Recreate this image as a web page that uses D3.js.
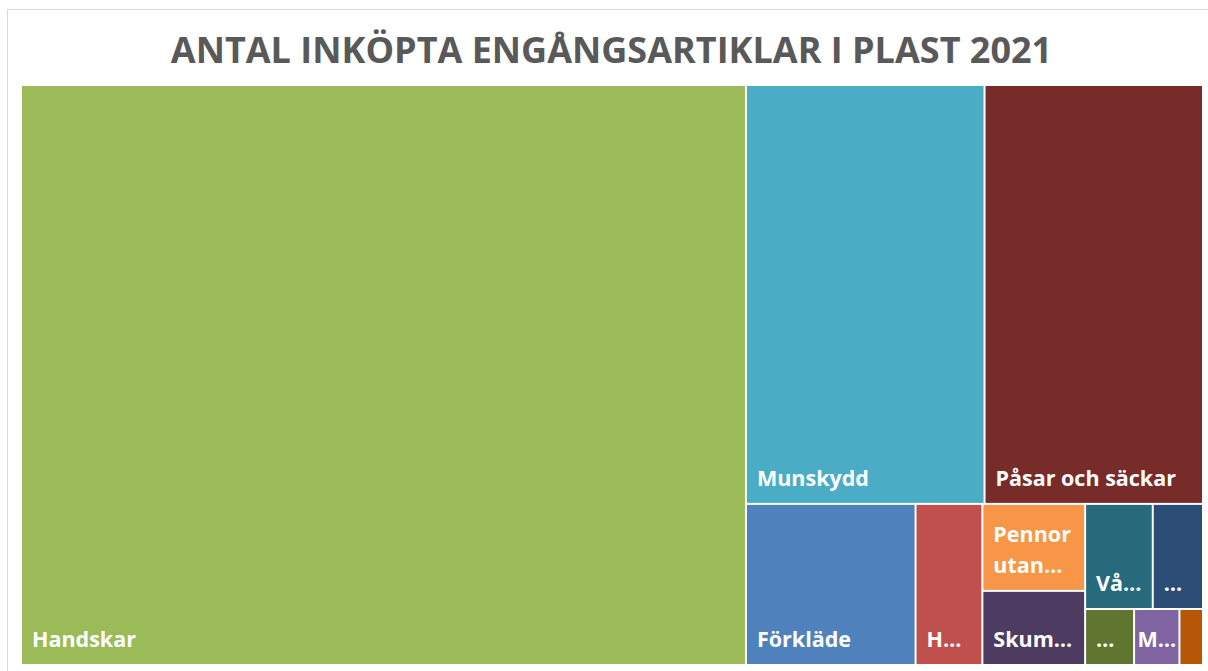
<!DOCTYPE html>
<html>
<head>
<meta charset="utf-8">
<script src="https://cdn.jsdelivr.net/npm/d3@7"></script>
<style>
	body { margin: 0; background: #fff; }
	svg { display: block; }
	.cell-label { font-family: "Open Sans", sans-serif; font-weight: 700; font-size: 21.5px; fill: #fff; }
	.chart-title { font-family: "Open Sans", sans-serif; font-weight: 700; font-size: 36px; fill: #595959; }
</style>
</head>
<body>
<div id="chart"></div>
<script>
const chartTitle = 'ANTAL INKÖPTA ENGÅNGSARTIKLAR I PLAST 2021';

// labels as they appear in the chart (Excel truncates the small ones)
const labels = ['Handskar', 'Munskydd', 'Påsar och säckar', 'Förkläde', 'H…', 'Pennor\nutan…', 'Skum…', 'Vå…', '…', '…', 'M…', ''];
const values = [4140, 984, 901, 269, 106, 88, 75, 70, 52, 27, 25, 13];
const colors = ['#9BBB59', '#4BACC6', '#772C2A', '#4F81BD', '#C0504D', '#F79646', '#4E3B62', '#276A7C', '#2C4D75', '#5F7530', '#8064A2', '#B65708'];

// how many cells Excel put in each strip of its layout
const groupSizes = [1, 2, 1, 1, 2, 2, 3];

const width = 1208;
const height = 671;

const svg = d3.select('#chart').append('svg')
	.attr('width', width)
	.attr('height', height);

// chart border (runs off the right and bottom of the picture)
svg.append('rect')
	.attr('x', 7.5).attr('y', 9.5)
	.attr('width', 1220).attr('height', 680)
	.attr('fill', '#fff')
	.attr('stroke', '#d9d9d9');

const title = svg.append('text')
	.attr('class', 'chart-title')
	.attr('x', 611.5)
	.attr('y', 63)
	.attr('text-anchor', 'middle')
	.text(chartTitle);
if (title.node().getComputedTextLength() > 883) {
	title.attr('textLength', 883).attr('lengthAdjust', 'spacingAndGlyphs');
}

// strips go along the short side, the last strip fills what is left along the long side
function excelTile(parent, x0, y0, x1, y1) {
	const nodes = parent.children;
	let total = parent.value;
	let start = 0;
	groupSizes.forEach((size, gi) => {
		const row = nodes.slice(start, start + size);
		const sum = d3.sum(row, (d) => d.value);
		const strip = { children: row, value: sum };
		const dx = x1 - x0;
		const dy = y1 - y0;
		if (gi == groupSizes.length - 1) {
			if (dx >= dy) d3.treemapDice(strip, x0, y0, x1, y1);
			else d3.treemapSlice(strip, x0, y0, x1, y1);
		}
		else if (dx < dy) {
			const h = dy * sum / total;
			d3.treemapDice(strip, x0, y0, x1, y0 + h);
			y0 += h;
		}
		else {
			const w = dx * sum / total;
			d3.treemapSlice(strip, x0, y0, x0 + w, y1);
			x0 += w;
		}
		total -= sum;
		start += size;
	});
}

const items = values.map((v, i) => ({ label: labels[i], value: v, color: colors[i] }));
const root = d3.hierarchy({ children: items }).sum((d) => d.value);

d3.treemap()
	.size([1180, 578])
	.paddingInner(2)
	.tile(excelTile)(root);

const plot = svg.append('g').attr('transform', 'translate(22,86)');

const cells = plot.selectAll('g')
	.data(root.leaves())
	.enter()
	.append('g')
	.attr('transform', (d) => `translate(${d.x0},${d.y0})`);

cells.append('rect')
	.attr('width', (d) => d.x1 - d.x0)
	.attr('height', (d) => d.y1 - d.y0)
	.attr('fill', (d) => d.data.color);

cells.each(function(d) {
	if (!d.data.label) return;
	const w = d.x1 - d.x0;
	const h = d.y1 - d.y0;
	const lines = d.data.label.split('\n');
	const text = d3.select(this).append('text').attr('class', 'cell-label');
	text.selectAll('tspan')
		.data(lines)
		.enter()
		.append('tspan')
		.attr('y', (line, i) => h - 17 - (lines.length - 1 - i) * 31)
		.text((line) => line);
	let tw = 0;
	text.selectAll('tspan').each(function() { tw = Math.max(tw, this.getComputedTextLength()); });
	const x = Math.min(10, (w - tw) / 2);
	text.selectAll('tspan').attr('x', x);
});
</script>
</body>
</html>
